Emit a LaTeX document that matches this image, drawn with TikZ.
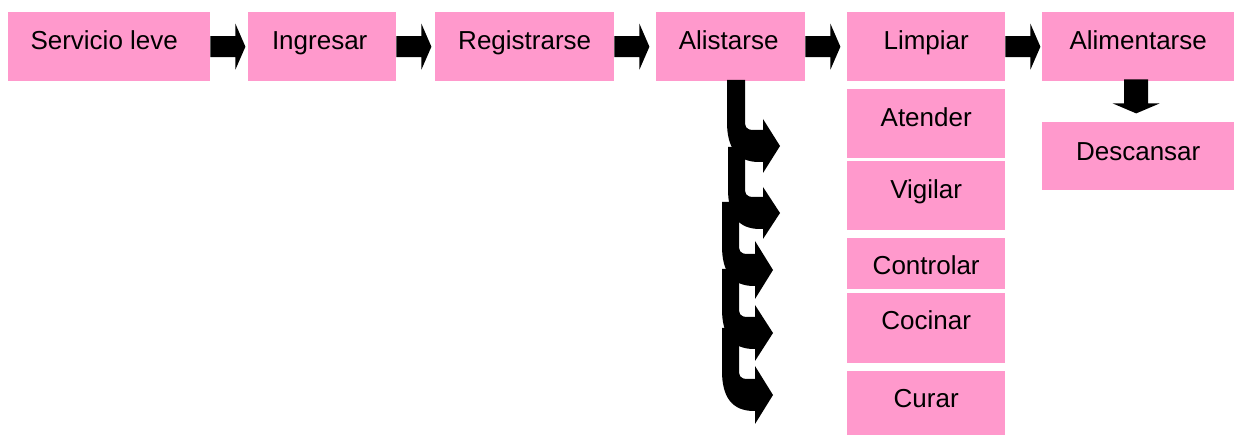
\documentclass[tikz,border=0pt]{standalone}
\usepackage{fontspec}
\setmainfont{Liberation Sans}
\usetikzlibrary{calc}
\definecolor{boxpink}{HTML}{FF99CC}
\tikzset{
  box/.style={fill=boxpink, draw=none, anchor=north west, inner sep=0pt,
    font=\fontsize{26}{31}\selectfont, align=center},
  blk/.style={fill=black, draw=none}
}
% horizontal block arrow starting at a coordinate (y axis points down)
\newcommand\harr[1]{\fill[blk] (#1) ++(0,-10.5) -- ++(25,0) -- ++(0,-12.5) -- ++(10,23) -- ++(-10,23) -- ++(0,-12.5) -- ++(-25,0) -- cycle;}
% curved down-right block arrow: top, left, right, headY, bandhalf, base, tip, headhalf
\newcommand\carr[8]{\fill[blk] (#2,#1) -- (#2,#4-24) .. controls (#2,#4+2) and (#2+10,#4+#5) .. (#2+32,#4+#5) -- (#6,#4+#5) -- (#6,#4+#8) -- (#7,#4) -- (#6,#4-#8) -- (#6,#4-#5) -- (#3+9,#4-#5) .. controls (#3,#4-#5) and (#3,#4-#5-4) .. (#3,#4-#5-10) -- (#3,#1) -- cycle;}
\begin{document}
\begin{tikzpicture}[x=1pt,y=-1pt]
\useasboundingbox (0,0) rectangle (1235,435);
% top row
\node[box, minimum width=202pt, minimum height=69pt, text height=18pt, text depth=12.4pt] (serv) at (8,12) {Servicio leve\hspace*{10pt}};
\node[box, minimum width=148pt, minimum height=69pt, text height=18pt, text depth=12.4pt] (ingr) at (248,12) {Ingresar\hspace*{5pt}};
\node[box, minimum width=179pt, minimum height=69pt, text height=18pt, text depth=12.4pt] (regi) at (435,12) {Registrarse};
\node[box, minimum width=149pt, minimum height=69pt, text height=18pt, text depth=12.4pt] (alis) at (656,12) {Alistarse\hspace*{4pt}};
\node[box, minimum width=158pt, minimum height=69pt, text height=18pt, text depth=12.4pt] (limp) at (847,12) {Limpiar};
\node[box, minimum width=192pt, minimum height=69pt, text height=18pt, text depth=12.4pt] (alim) at (1042,12) {Alimentarse};
% column
\node[box, minimum width=158pt, minimum height=69pt, text height=18pt, text depth=11.8pt] (aten) at (847,89) {Atender};
\node[box, minimum width=158pt, minimum height=69pt, text height=18pt, text depth=11.6pt] (vigi) at (847,161) {Vigilar};
\node[box, minimum width=158pt, minimum height=51pt, text height=24pt, text depth=1.4pt] (cont) at (847,238) {Controlar};
\node[box, minimum width=158pt, minimum height=70pt, text height=18pt, text depth=15.4pt] (coci) at (847,293) {Cocinar};
\node[box, minimum width=158pt, minimum height=64pt, text height=18pt, text depth=9.4pt] (cura) at (847,371) {Curar};
\node[box, minimum width=192pt, minimum height=68pt, text height=20pt, text depth=11pt] (desc) at (1042,122) {Descansar};
% horizontal arrows
\harr{serv.east}
\harr{ingr.east}
\harr{regi.east}
\harr{alis.east}
\harr{limp.east}
% down arrow
\fill[blk] ($(alim.south)+(-14,-2)$) -- ++(24,0) -- ++(0,24) -- ++(11.5,0) -- ++(-23.5,10) -- ++(-23.5,-10) -- ++(11.5,0) -- cycle;
% curved arrows
\carr{80}{727}{745}{146}{16}{763}{780}{27}
\carr{147}{728}{745}{213}{16}{763}{780}{26}
\carr{202}{722}{739}{270}{16}{755}{773}{29}
\carr{269}{722}{739}{333}{16}{755}{773}{28}
\carr{328}{722}{739}{395}{16}{755}{773}{29}
\end{tikzpicture}
\end{document}
